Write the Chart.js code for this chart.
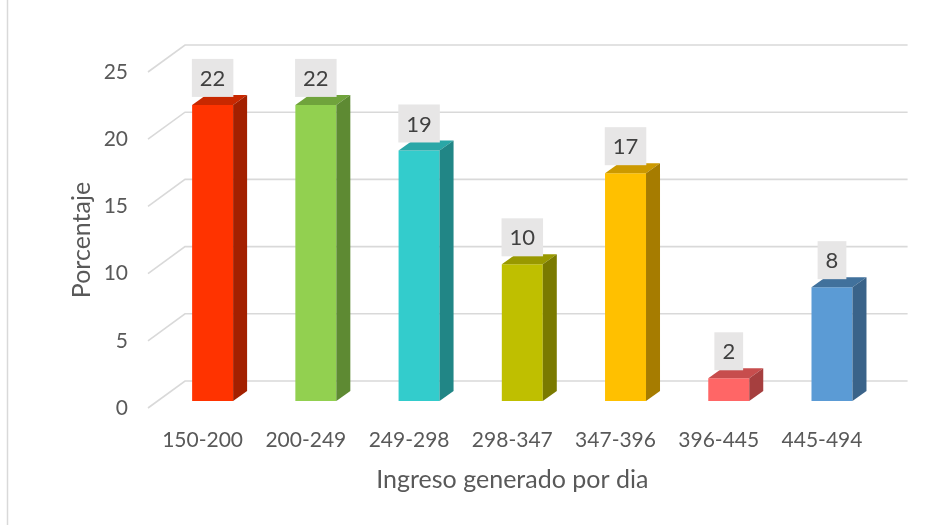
<!DOCTYPE html>
<html><head><meta charset="utf-8">
<script src="https://cdn.jsdelivr.net/npm/chart.js@4.4.1/dist/chart.umd.min.js"></script>
<style>html,body{margin:0;padding:0;background:#fff}#wrap{width:950px;height:525px;position:relative}</style>
</head><body><div id="wrap"><canvas id="c" width="950" height="525"></canvas></div>
<script>
const categories = ['150-200','200-249','249-298','298-347','347-396','396-445','445-494'];
const values = [22.03, 22.03, 18.64, 10.17, 16.95, 1.69, 8.47];
const yTicks = [0, 5, 10, 15, 20, 25];
const frontColors = ['#FF3300','#92D050','#33CCCC','#BFBF00','#FFC000','#FF6666','#5B9BD5'];
const sideColors  = ['#A32000','#5E8A33','#218686','#7A7A00','#A67C00','#A63F3F','#3A6389'];
const topColors   = ['#C82800','#70A33C','#2AA7A7','#999900','#CC9900','#C74D4D','#41719C'];

const FONT = 'Lato';
const threeD = {
  id: 'threeD',
  beforeDraw(chart) {
    const {ctx} = chart;
    ctx.save();
    ctx.fillStyle = '#fff';
    ctx.fillRect(0, 0, chart.width, chart.height);
    ctx.strokeStyle = '#d9d9d9';
    ctx.lineWidth = 1.5;
    ctx.beginPath(); ctx.moveTo(7.5, 0); ctx.lineTo(7.5, chart.height); ctx.stroke();
    ctx.restore();
  },
  beforeDatasetsDraw(chart) {
    const {ctx, chartArea: a, scales: {y}} = chart;
    ctx.save();
    ctx.strokeStyle = '#d9d9d9';
    ctx.lineWidth = 1.6;
    yTicks.forEach(v => {
      const py = y.getPixelForValue(v);
      ctx.beginPath();
      ctx.moveTo(a.left - 3, py);
      ctx.lineTo(a.left + 34, py - 27);
      ctx.lineTo(a.right + 34, py - 27);
      ctx.stroke();
    });
    ctx.restore();
    ctx.save();
    ctx.translate(10, -7);
  },
  afterDatasetsDraw(chart) {
    const {ctx} = chart;
    const meta = chart.getDatasetMeta(0);
    meta.data.forEach((bar, i) => {
      const {x, y, width, base} = bar.getProps(['x', 'y', 'width', 'base'], true);
      const l = x - width / 2, r = x + width / 2;
      ctx.fillStyle = topColors[i];
      ctx.beginPath();
      ctx.moveTo(l, y); ctx.lineTo(r, y); ctx.lineTo(r + 14, y - 10); ctx.lineTo(l + 14, y - 10);
      ctx.closePath(); ctx.fill();
      ctx.fillStyle = sideColors[i];
      ctx.beginPath();
      ctx.moveTo(r, y); ctx.lineTo(r + 14, y - 10); ctx.lineTo(r + 14, base - 10); ctx.lineTo(r, base);
      ctx.closePath(); ctx.fill();
    });
    ctx.font = '22px ' + FONT;
    ctx.textAlign = 'center';
    ctx.textBaseline = 'middle';
    meta.data.forEach((bar, i) => {
      const txt = String(Math.round(values[i]));
      const tw = ctx.measureText(txt).width;
      const bw = tw + 16, bh = 38;
      const bx = bar.x - bw / 2, by = bar.y - 8 - bh;
      ctx.fillStyle = '#E7E6E6';
      ctx.fillRect(bx, by, bw, bh);
      ctx.fillStyle = '#404040';
      ctx.fillText(txt, bar.x, by + bh / 2 + 1);
    });
    ctx.restore();
  }
};

new Chart(document.getElementById('c'), {
  type: 'bar',
  data: {
    labels: categories,
    datasets: [{
      data: values,
      backgroundColor: frontColors,
      borderWidth: 0,
      categoryPercentage: 1,
      barPercentage: 0.397,
      clip: false
    }]
  },
  options: {
    responsive: false,
    animation: false,
    devicePixelRatio: 1,
    layout: {padding: {left: 60, right: 76.4, top: 72, bottom: 0}},
    plugins: {legend: {display: false}, tooltip: {enabled: false}},
    scales: {
      x: {
        grid: {display: false, drawTicks: false},
        border: {display: false},
        ticks: {color: '#595959', font: {family: FONT, size: 21}, padding: 20, autoSkip: false, maxRotation: 0},
        title: {display: true, text: 'Ingreso generado por dia', color: '#595959', font: {family: FONT, size: 25}, padding: {top: 0, bottom: 30}},
        afterFit(s) { s.height = 117; }
      },
      y: {
        min: 0, max: 25,
        grid: {display: false, drawTicks: false},
        border: {display: false},
        ticks: {stepSize: 5, color: '#595959', font: {family: FONT, size: 21}, padding: 23},
        title: {display: true, text: 'Porcentaje', color: '#595959', font: {family: FONT, size: 25}, padding: {top: 7, bottom: 0}},
        afterFit(s) { s.width = 91; }
      }
    }
  },
  plugins: [threeD]
});
</script>
</body></html>
